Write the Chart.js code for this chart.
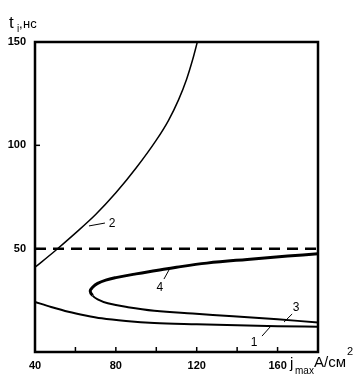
<!DOCTYPE html>
<html>
<head>
<meta charset="utf-8">
<script src="https://cdn.jsdelivr.net/npm/chart.js@4.4.1/dist/chart.umd.min.js"></script>
<style>
html,body{margin:0;padding:0;background:#fff;}
canvas{display:block;}
</style>
</head>
<body>
<canvas id="c" width="361" height="385"></canvas>
<script>
// ---- data (j_max, A/cm^2  vs  t_i, ns) ----
const xTicks = [40, 80, 120, 160];
const yTicks = [50, 100, 150];

const curve1J = [40, 48, 56.5, 65, 73, 85, 99, 120, 140, 160, 180];
const curve1T = [24.2, 21.8, 19.5, 17.7, 16.3, 15.0, 14.0, 13.4, 12.9, 12.5, 12.2];

const curve2J = [40, 50, 60, 70, 80, 90, 100, 106, 111, 115, 118, 120.3];
const curve2T = [41, 49, 57.5, 66.5, 77, 89, 102.5, 112, 122, 132, 141.5, 150];

// curves 4 (upper, bold) and 3 (lower) form one C-shaped line through the nose
const curve4J = [180, 165, 145, 125, 110, 100, 90, 80, 75, 71, 68.5, 67.3];
const curve4T = [47.5, 46.4, 44.8, 43, 41, 39.4, 37.8, 36, 34.8, 33.2, 31.3, 29.5];
const curve3J = [68.5, 71, 76, 86, 99, 118, 138, 160, 180];
const curve3T = [27.3, 25.5, 23.6, 21.7, 20, 18.6, 17.3, 15.8, 14.3];

const limitJ = [40, 180];
const limitT = [50, 50];

// curve labels: text, label position, pointer start, pointer end (data units)
const labelText = ["2", "4", "3", "1"];
const labelPos  = [[78.1, 61.9], [101.8, 31], [169.1, 21.3], [148.4, 4.4]];
const pointerA  = [[74.6, 62.4], [103.8, 35.3], [167.2, 18.4], [152.3, 7.7]];
const pointerB  = [[66.7, 61.0], [106.8, 40.6], [163.2, 14.5], [156.3, 12.1]];

const pts = (xs, ys) => xs.map((x, i) => ({x: x, y: ys[i]}));

const overlay = {
  id: 'overlay',
  afterDraw(chart) {
    const ctx = chart.ctx, a = chart.chartArea;
    const xs = chart.scales.x, ys = chart.scales.y;
    ctx.save();
    ctx.strokeStyle = '#000';
    ctx.fillStyle = '#000';
    // frame
    ctx.lineWidth = 2.5;
    ctx.strokeRect(a.left, a.top, a.right - a.left, a.bottom - a.top);
    // inner ticks
    ctx.lineWidth = 1.5;
    xs.ticks.forEach(t => {
      const px = xs.getPixelForValue(t.value);
      ctx.beginPath(); ctx.moveTo(px, a.bottom); ctx.lineTo(px, a.bottom - 5); ctx.stroke();
    });
    ys.ticks.forEach(t => {
      if (t.value <= 0 || t.value >= 150) return;
      const py = ys.getPixelForValue(t.value);
      ctx.beginPath(); ctx.moveTo(a.left, py); ctx.lineTo(a.left + 5, py); ctx.stroke();
    });
    // curve labels
    ctx.font = '12px "Liberation Sans", Arial, sans-serif';
    ctx.textAlign = 'center';
    ctx.textBaseline = 'middle';
    ctx.lineWidth = 1;
    labelText.forEach((s, i) => {
      ctx.fillText(s, xs.getPixelForValue(labelPos[i][0]), ys.getPixelForValue(labelPos[i][1]));
      ctx.beginPath();
      ctx.moveTo(xs.getPixelForValue(pointerA[i][0]), ys.getPixelForValue(pointerA[i][1]));
      ctx.lineTo(xs.getPixelForValue(pointerB[i][0]), ys.getPixelForValue(pointerB[i][1]));
      ctx.stroke();
    });
    // y title: t_i, нс
    ctx.textAlign = 'left';
    ctx.textBaseline = 'alphabetic';
    ctx.font = '17px "Liberation Sans", Arial, sans-serif';
    ctx.fillText('t', 9, 28);
    ctx.font = '10px "Liberation Sans", Arial, sans-serif';
    ctx.fillText('i', 17, 32);
    ctx.font = '13px "Liberation Sans", Arial, sans-serif';
    ctx.fillText(',', 19, 28);
    ctx.fillText('нс', 23, 28);
    // x title: j_max A/см²
    ctx.font = '15px "Liberation Sans", Arial, sans-serif';
    ctx.fillText('j', 290, 368);
    ctx.font = '10px "Liberation Sans", Arial, sans-serif';
    ctx.fillText('max', 295, 374);
    ctx.font = '15px "Liberation Sans", Arial, sans-serif';
    ctx.fillText('A/см', 314, 367);
    ctx.font = '11px "Liberation Sans", Arial, sans-serif';
    ctx.fillText('2', 347, 355);
    ctx.restore();
  }
};

const lineDs = (data, w, extra) => Object.assign({
  data: data, showLine: true, borderColor: '#000', backgroundColor: '#000',
  borderWidth: w, pointRadius: 0, tension: 0.35, fill: false
}, extra || {});

const nUpper = curve4J.length;
const cData = pts(curve4J.concat(curve3J), curve4T.concat(curve3T));

new Chart(document.getElementById('c'), {
  type: 'scatter',
  data: {
    datasets: [
      lineDs(pts(curve1J, curve1T), 2, {cubicInterpolationMode: 'monotone'}),
      lineDs(pts(curve2J, curve2T), 1.5, {cubicInterpolationMode: 'monotone'}),
      lineDs(cData, 2.5, {tension: 0.4, segment: {borderWidth: c => c.p0DataIndex < nUpper ? 3 : 2}}),
      lineDs(pts(limitJ, limitT), 2.5, {tension: 0, borderDash: [11, 7]})
    ]
  },
  options: {
    responsive: false,
    animation: false,
    devicePixelRatio: 1,
    layout: {padding: {top: 42, right: 43, left: 0, bottom: 0}},
    plugins: {legend: {display: false}, tooltip: {enabled: false}},
    scales: {
      x: {
        type: 'linear', min: 40, max: 180,
        grid: {display: false, drawTicks: false},
        border: {display: false},
        afterBuildTicks: s => { s.ticks = [40,60,80,100,120,140,160,180].map(v => ({value: v})); },
        ticks: {
          color: '#000', padding: 7, maxRotation: 0, autoSkip: false,
          font: {family: '"Liberation Sans", Arial, sans-serif', size: 11, weight: 'bold'},
          callback: v => xTicks.includes(v) ? String(v) : ''
        },
        afterFit: s => { s.height = 33; }
      },
      y: {
        type: 'linear', min: 0, max: 150,
        grid: {display: false, drawTicks: false},
        border: {display: false},
        afterBuildTicks: s => { s.ticks = [0,50,100,150].map(v => ({value: v})); },
        ticks: {
          color: '#000', padding: 9, autoSkip: false,
          font: {family: '"Liberation Sans", Arial, sans-serif', size: 11, weight: 'bold'},
          callback: v => yTicks.includes(v) ? String(v) : ''
        },
        afterFit: s => { s.width = 35; }
      }
    }
  },
  plugins: [overlay]
});
</script>
</body>
</html>
